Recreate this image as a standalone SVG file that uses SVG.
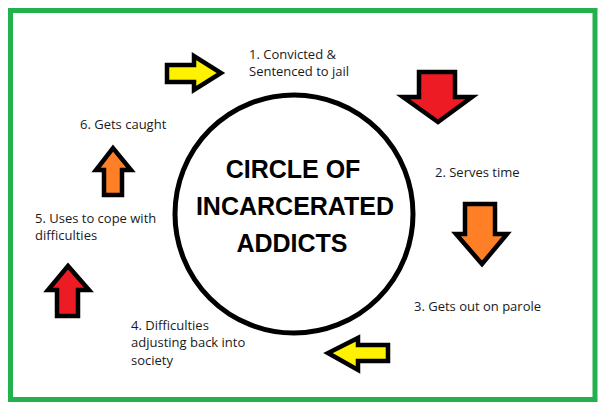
<svg xmlns="http://www.w3.org/2000/svg" width="604" height="410" viewBox="0 0 604 410">
<style>
.lbl{font-family:"Open Sans","Liberation Sans",sans-serif;font-size:13px;fill:#1a1a1a}
.title{font-family:"Liberation Sans",Arial,sans-serif;font-size:25px;font-weight:bold;fill:#000;text-anchor:middle}
.arr{stroke:#000;stroke-width:4.5;stroke-linejoin:miter}
.y{fill:#FFF200}.r{fill:#ED1C24}.o{fill:#FF7F27}
</style>
<rect x="10.5" y="10.5" width="584.5" height="389" fill="#fff" stroke="#22B14C" stroke-width="5"/>
<g id="center">
<circle cx="294" cy="214" r="119" fill="#fff" stroke="#000" stroke-width="5"/>
<text class="title" x="293" y="178">CIRCLE OF</text>
<text class="title" x="295" y="215">INCARCERATED</text>
<text class="title" x="292" y="252">ADDICTS</text>
</g>
<g id="connectors">
<polygon class="arr y" points="167,65 194,65 194,56 221,73 194,90 194,82 167,82"/>
<polygon class="arr r" points="419,72 455,72 455,97 472,97 438,122 403,97 419,97"/>
<polygon class="arr o" points="465,204 495,204 495,234 507,234 482,264 456,234 465,234"/>
<polygon class="arr y" points="388,345 358,345 358,338 328,353 358,370 358,361 388,361"/>
<polygon class="arr r" points="57,316 57,290 48,290 68,266 89,290 78,290 78,316"/>
<polygon class="arr o" points="104,195 104,170 96,170 113,148 131,170 122,170 122,195"/>
</g>
<g id="step1"><text class="lbl" x="249" y="59">1. Convicted &amp;</text><text class="lbl" x="249" y="76">Sentenced to jail</text></g>
<g id="step2"><text class="lbl" x="435" y="177">2. Serves time</text></g>
<g id="step3"><text class="lbl" x="414" y="311">3. Gets out on parole</text></g>
<g id="step4"><text class="lbl" x="131" y="330">4. Difficulties</text><text class="lbl" x="131" y="347">adjusting back into</text><text class="lbl" x="131" y="365">society</text></g>
<g id="step5"><text class="lbl" x="35" y="223">5. Uses to cope with</text><text class="lbl" x="35" y="240">difficulties</text></g>
<g id="step6"><text class="lbl" x="80" y="129">6. Gets caught</text></g>
</svg>
